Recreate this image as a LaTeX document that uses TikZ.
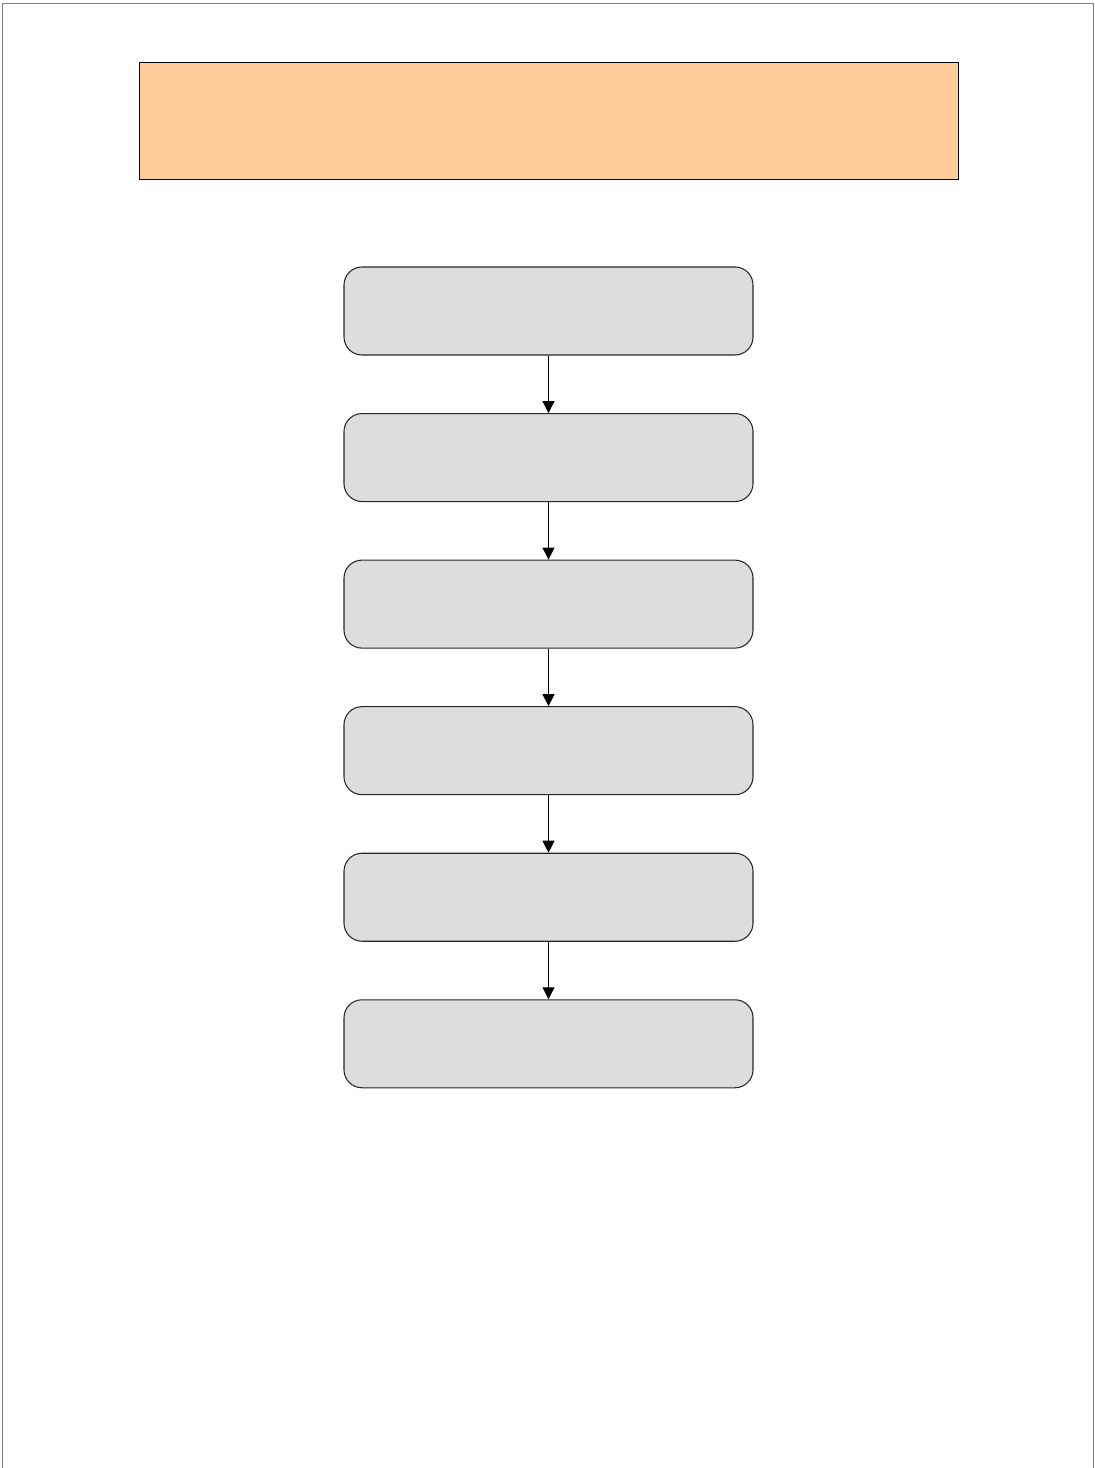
\documentclass[tikz,border=0pt]{standalone}
\usepackage{xcolor}
\usepackage{tikz}
\usetikzlibrary{arrows.meta, positioning}
\definecolor{titleorange}{HTML}{FECB9A}
\definecolor{boxgray}{HTML}{DDDDDD}
\tikzset{
    titlebox/.style={rectangle, draw=black, line width=0.5pt, fill=titleorange,
        minimum width=16.38cm, minimum height=2.34cm, inner sep=0pt},
    flowbox/.style={rectangle, rounded corners=0.36cm, draw=black!85, line width=0.6pt,
        fill=boxgray, minimum width=8.18cm, minimum height=1.76cm, inner sep=0pt},
    arrow/.style={-{Triangle[length=2.4mm, width=2.4mm]}, line width=0.6pt},
}

\begin{document}
\begin{tikzpicture}[node distance=1.15cm]
    \useasboundingbox (0,0) rectangle (21.88,-29.36);
    % page frame, open at the bottom
    \draw[black!50, line width=0.8pt] (0.05,-29.6) -- (0.05,-0.07) -- (21.87,-0.07) -- (21.87,-29.6);
    \node[titlebox] (title) at (10.97,-2.41) {};
    \node[flowbox] (s1) at (10.97,-6.22) {};
    \node[flowbox, below=of s1] (s2) {};
    \node[flowbox, below=of s2] (s3) {};
    \node[flowbox, below=of s3] (s4) {};
    \node[flowbox, below=of s4] (s5) {};
    \node[flowbox, below=of s5] (s6) {};
    \draw[arrow] (s1) -- (s2);
    \draw[arrow] (s2) -- (s3);
    \draw[arrow] (s3) -- (s4);
    \draw[arrow] (s4) -- (s5);
    \draw[arrow] (s5) -- (s6);
\end{tikzpicture}
\end{document}
